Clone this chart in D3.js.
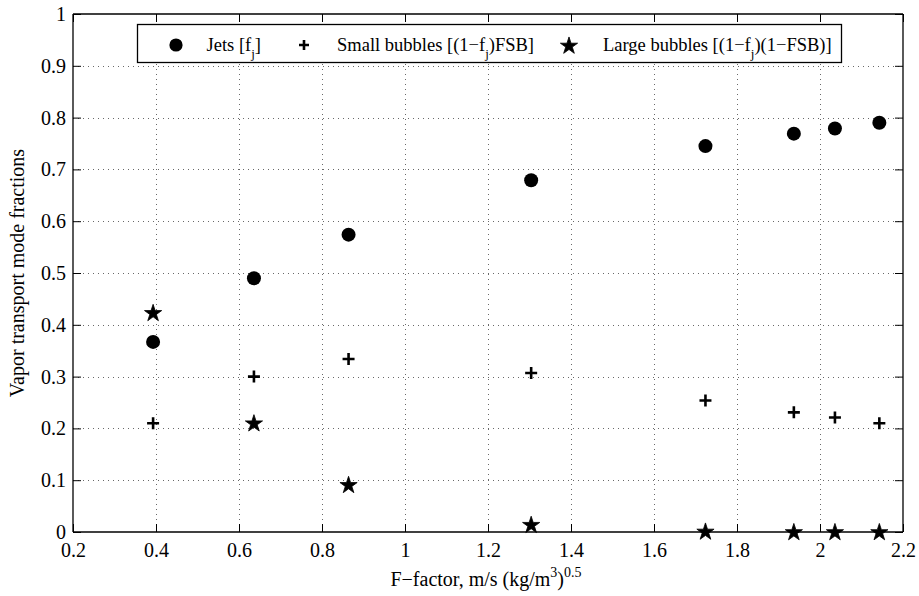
<!DOCTYPE html>
<html>
<head>
<meta charset="utf-8">
<script src="https://cdn.jsdelivr.net/npm/d3@7"></script>
<style>
  html, body { margin: 0; padding: 0; background: #fff; }
  svg, svg text { font-family: "Liberation Serif", "Times New Roman", Times, serif; }
  svg { display: block; }
</style>
</head>
<body>
<svg id="chart" width="919" height="596"></svg>
<script>
// F-factor values, m/s (kg/m^3)^0.5
const fFactor = [0.393, 0.636, 0.864, 1.304, 1.724, 1.937, 2.036, 2.143];
// Vapor transport mode fractions
const jets = [0.367, 0.490, 0.574, 0.679, 0.745, 0.769, 0.779, 0.790];
const smallBubbles = [0.210, 0.300, 0.334, 0.307, 0.254, 0.231, 0.221, 0.210];
const largeBubbles = [0.424, 0.211, 0.092, 0.015, 0.002, 0.001, 0.001, 0.001];

const xTicks = [0.2, 0.4, 0.6, 0.8, 1, 1.2, 1.4, 1.6, 1.8, 2, 2.2];
const yTicks = [0, 0.1, 0.2, 0.3, 0.4, 0.5, 0.6, 0.7, 0.8, 0.9, 1];

const FONT = "Liberation Serif, Times New Roman, Times, serif";
const svg = d3.select("#chart");
const plotL = 73, plotR = 903, plotT = 14, plotB = 532;

const x = d3.scaleLinear().domain([0.2, 2.2]).range([plotL, plotR]);
const y = d3.scaleLinear().domain([0, 1]).range([plotB, plotT]);
const fmt = d => String(+(+d).toFixed(1));

// dotted grid
const grid = svg.append("g").attr("stroke", "#444").attr("stroke-width", 1)
  .attr("stroke-dasharray", "1,4").attr("opacity", 0.8);
grid.selectAll("line.gx").data(xTicks.slice(1, -1)).join("line")
  .attr("x1", d => Math.round(x(d)) + 0.5).attr("x2", d => Math.round(x(d)) + 0.5)
  .attr("y1", plotT).attr("y2", plotB);
grid.selectAll("line.gy").data(yTicks.slice(1, -1)).join("line")
  .attr("y1", d => Math.round(y(d)) + 0.5).attr("y2", d => Math.round(y(d)) + 0.5)
  .attr("x1", plotL).attr("x2", plotR);

// axes with inward ticks on all sides
const tickLen = 8;
const axB = d3.axisBottom(x).tickValues(xTicks).tickSize(-tickLen).tickPadding(11).tickFormat(fmt);
const axT = d3.axisTop(x).tickValues(xTicks).tickSize(-tickLen).tickFormat("");
const axL = d3.axisLeft(y).tickValues(yTicks).tickSize(-tickLen).tickPadding(7).tickFormat(fmt);
const axR = d3.axisRight(y).tickValues(yTicks).tickSize(-tickLen).tickFormat("");

function styleAxis(g) {
  g.attr("font-family", FONT).attr("font-size", 20);
  g.select(".domain").attr("stroke", "#000").attr("stroke-width", 1.3);
  g.selectAll(".tick line").attr("stroke", "#000").attr("stroke-width", 1);
  g.selectAll(".tick text").attr("fill", "#000");
}
svg.append("g").attr("transform", `translate(0,${plotB})`).call(axB).call(styleAxis)
  .call(g => g.select(".domain").attr("d", `M${plotL},0H${plotR}`));
svg.append("g").attr("transform", `translate(0,${plotT})`).call(axT).call(styleAxis)
  .call(g => g.select(".domain").attr("d", `M${plotL},0H${plotR}`));
svg.append("g").attr("transform", `translate(${plotL},0)`).call(axL).call(styleAxis)
  .call(g => g.select(".domain").attr("d", `M0,${plotT}V${plotB}`));
svg.append("g").attr("transform", `translate(${plotR},0)`).call(axR).call(styleAxis)
  .call(g => g.select(".domain").attr("d", `M0,${plotT}V${plotB}`));

// markers
const star = d3.symbol().type(d3.symbolStar).size(92)();
const plus = "M-6,0H6M0,-6V6";
const plusSmall = "M-5,0H5M0,-5V5";

const marks = svg.append("g");
marks.selectAll("circle.jet").data(fFactor).join("circle")
  .attr("cx", d => x(d)).attr("cy", (d, i) => y(jets[i])).attr("r", 7).attr("fill", "#000");
marks.selectAll("path.small").data(fFactor).join("path")
  .attr("transform", (d, i) => `translate(${x(d)},${y(smallBubbles[i])})`)
  .attr("d", plus).attr("stroke", "#000").attr("stroke-width", 2.6).attr("fill", "none");
marks.selectAll("path.large").data(fFactor).join("path")
  .attr("transform", (d, i) => `translate(${x(d)},${y(largeBubbles[i]) + 1})`)
  .attr("d", star).attr("fill", "#000").attr("stroke", "#000").attr("stroke-width", 0.8);

// legend
const legend = svg.append("g").attr("font-family", FONT);
legend.append("rect").attr("x", 137.5).attr("y", 24.5).attr("width", 704).attr("height", 38)
  .attr("fill", "#fff").attr("stroke", "#000").attr("stroke-width", 1.3);
legend.append("circle").attr("cx", 176).attr("cy", 45).attr("r", 6.6).attr("fill", "#000");
legend.append("path").attr("transform", "translate(304,45)").attr("d", plusSmall)
  .attr("stroke", "#000").attr("stroke-width", 2.6);
legend.append("path").attr("transform", "translate(569,46)").attr("d", star)
  .attr("fill", "#000").attr("stroke", "#000").attr("stroke-width", 0.8);

function withSub(xPos, before, after) {
  const t = legend.append("text").attr("x", xPos).attr("y", 51)
    .attr("font-size", 18.5).attr("fill", "#000");
  t.append("tspan").text(before);
  t.append("tspan").text("j").attr("font-size", 13).attr("dy", 7);
  t.append("tspan").text(after).attr("dy", -7);
}
withSub(206.5, "Jets [f", "]");
withSub(337, "Small bubbles [(1\u2212f", ")FSB]");
withSub(603, "Large bubbles [(1\u2212f", ")(1\u2212FSB)]");

// axis titles
const xt = svg.append("text").attr("x", 486).attr("y", 586).attr("text-anchor", "middle")
  .attr("font-family", FONT).attr("font-size", 20).attr("fill", "#000");
xt.append("tspan").text("F\u2212factor, m/s (kg/m");
xt.append("tspan").text("3").attr("font-size", 14).attr("dy", -9);
xt.append("tspan").text(")").attr("dy", 9);
xt.append("tspan").text("0.5").attr("font-size", 14).attr("dy", -9);

svg.append("text").attr("transform", "translate(24,273) rotate(-90)")
  .attr("text-anchor", "middle").attr("font-family", FONT).attr("font-size", 20).attr("fill", "#000")
  .text("Vapor transport mode fractions");
</script>
</body>
</html>
